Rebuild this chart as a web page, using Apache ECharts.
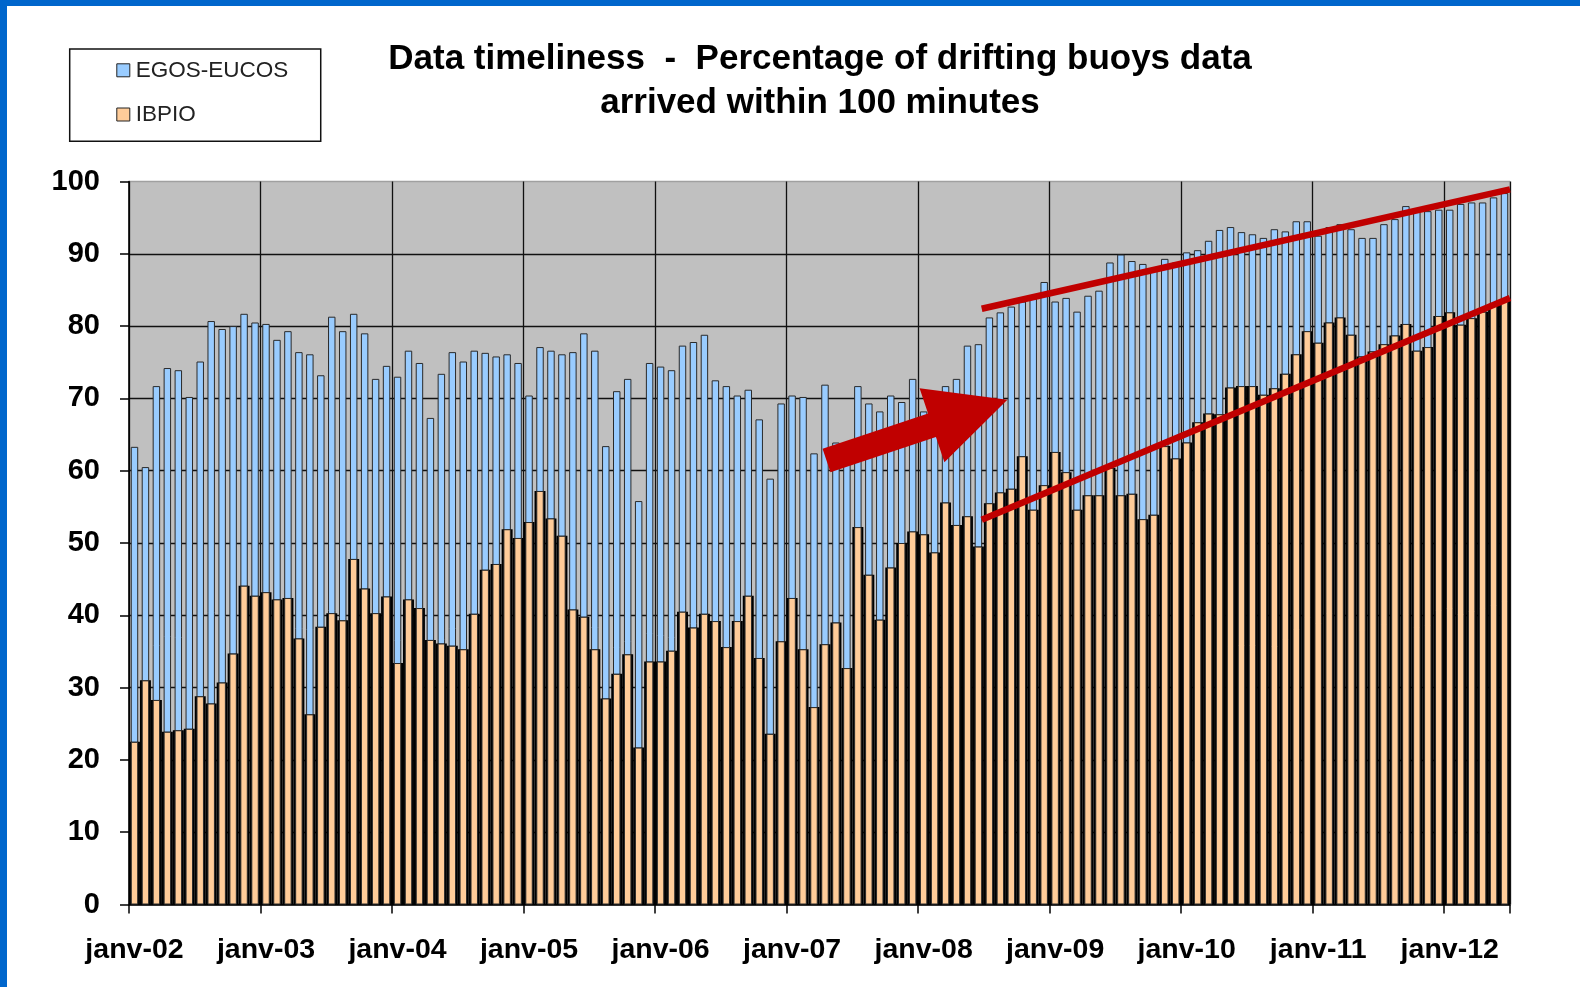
<!DOCTYPE html>
<html>
<head>
<meta charset="utf-8">
<style>
  html, body { margin: 0; padding: 0; background: #ffffff; }
  #chart { width: 1580px; height: 987px; }
</style>
<script src="https://cdn.jsdelivr.net/npm/echarts@6/dist/echarts.min.js"></script>
</head>
<body>
<div id="chart"></div>
<script>
// ---- data ----
const years = ['02','03','04','05','06','07','08','09','10','11','12'];
const months = ['janv','févr','mars','avr','mai','juin','juil','août','sept','oct','nov','déc'];

const egosEucos = [
  63.3, 60.5, 71.7, 74.2, 73.9, 70.2, 75.1, 80.7, 79.6, 80.0, 81.7, 80.5,
  80.3, 78.1, 79.3, 76.4, 76.1, 73.2, 81.3, 79.3, 81.7, 79.0, 72.7, 74.5,
  73.0, 76.6, 74.9, 67.3, 73.4, 76.4, 75.1, 76.6, 76.3, 75.8, 76.1, 74.9,
  70.4, 77.1, 76.6, 76.1, 76.4, 79.0, 76.6, 63.4, 71.0, 72.7, 55.8, 74.9,
  74.4, 73.9, 77.3, 77.8, 78.8, 72.5, 71.7, 70.4, 71.2, 67.1, 58.9, 69.3,
  70.4, 70.2, 62.4, 71.9, 63.9, 62.5, 71.7, 69.3, 68.2, 70.4, 69.5, 72.7,
  68.2, 70.0, 71.7, 72.7, 77.3, 77.5, 81.2, 81.9, 82.7, 83.4, 84.3, 86.1,
  83.4, 83.9, 82.0, 84.2, 84.9, 88.8, 89.9, 89.0, 88.6, 88.0, 89.3, 88.8,
  90.2, 90.5, 91.8, 93.3, 93.7, 93.0, 92.7, 92.2, 93.4, 93.1, 94.5, 94.5,
  92.5, 93.7, 94.1, 93.4, 92.2, 92.2, 94.1, 94.8, 96.6, 95.8, 95.9, 96.1,
  96.1, 96.9, 97.1, 97.1, 97.8, 98.4
];

const ibpio = [
  22.5, 31.0, 28.3, 23.9, 24.1, 24.3, 28.8, 27.8, 30.7, 34.7, 44.1, 42.7,
  43.2, 42.2, 42.4, 36.8, 26.3, 38.4, 40.3, 39.3, 47.8, 43.7, 40.3, 42.6,
  33.4, 42.2, 41.0, 36.6, 36.1, 35.8, 35.3, 40.2, 46.3, 47.1, 51.9, 50.7,
  52.9, 57.2, 53.4, 51.0, 40.8, 39.8, 35.3, 28.5, 31.9, 34.6, 21.7, 33.6,
  33.6, 35.1, 40.5, 38.3, 40.2, 39.2, 35.6, 39.2, 42.7, 34.1, 23.6, 36.4,
  42.4, 35.3, 27.3, 36.0, 39.0, 32.7, 52.2, 45.6, 39.4, 46.6, 50.0, 51.6,
  51.2, 48.7, 55.6, 52.5, 53.7, 49.5, 55.5, 57.0, 57.5, 62.0, 54.6, 58.0,
  62.6, 59.8, 54.6, 56.6, 56.6, 60.4, 56.6, 56.8, 53.3, 53.9, 63.4, 61.7,
  63.9, 66.7, 67.9, 67.8, 71.5, 71.7, 71.7, 70.5, 71.4, 73.4, 76.1, 79.3,
  77.7, 80.5, 81.2, 78.8, 75.8, 76.5, 77.5, 78.7, 80.3, 76.6, 77.1, 81.4,
  81.9, 80.2, 81.1, 82.0, 82.8, 83.7
];

const yMin = 0, yMax = 100, yInterval = 10;

// annotation anchors in data space: [category index, value]
const trendUpper = [[77.3, 82.4], [125.5, 98.9]];
const trendLower = [[77.3, 53.2], [125.5, 83.9]];
const arrowTailTip = [[63.14, 61.4], [79.64, 69.8]];

// ---- build categories ----
const categories = [];
for (const y of years) for (const m of months) {
  if (categories.length < egosEucos.length) categories.push(m + '-' + y);
}

const FONT = "'Liberation Sans', Arial, sans-serif";
const yearStart = (idx) => idx % 12 === 0;
const ySplitColors = [];
for (let v = yMin; v <= yMax; v += yInterval) ySplitColors.push(v === yMax ? '#a0a0a0' : '#111111');

const chart = echarts.init(document.getElementById('chart'));
chart.setOption({
  animation: false,
  backgroundColor: '#ffffff',
  title: {
    text: 'Data timeliness  -  Percentage of drifting buoys data\narrived within 100 minutes',
    left: 820,
    top: 37.5,
    padding: 0,
    textAlign: 'center',
    textStyle: { fontFamily: FONT, fontSize: 35, fontWeight: 'bold', color: '#000', lineHeight: 44 }
  },
  legend: {
    data: ['EGOS-EUCOS', 'IBPIO'],
    orient: 'vertical',
    left: 69.7,
    top: 49,
    padding: [9.8, 32.4, 15.3, 46.6],
    backgroundColor: '#ffffff',
    borderColor: '#111111',
    borderWidth: 1.5,
    borderRadius: 0,
    itemWidth: 13,
    itemHeight: 13,
    itemGap: 21.2,
    icon: 'rect',
    itemStyle: { borderColor: '#222', borderWidth: 1 },
    textStyle: { fontFamily: FONT, fontSize: 22.5, lineHeight: 22, color: '#222', padding: [0, 0, 0, 1] }
  },
  grid: {
    left: 129, right: 70, top: 181.5, bottom: 82.5,
    show: true, backgroundColor: '#c0c0c0', borderColor: '#a0a0a0', borderWidth: 1
  },
  xAxis: [{
    type: 'category',
    data: categories,
    boundaryGap: true,
    axisLine: { show: true, lineStyle: { color: '#000', width: 1.5 } },
    axisTick: { show: true, interval: (i) => yearStart(i), alignWithLabel: false, length: 9, lineStyle: { color: '#000', width: 1.5 } },
    axisLabel: { interval: (i) => yearStart(i), fontFamily: FONT, fontSize: 28.5, fontWeight: 'bold', color: '#000', margin: 31 },
    splitLine: { show: true, interval: (i) => yearStart(i), lineStyle: { color: '#111', width: 1.3 } }
  }, {
    type: 'category',
    data: categories,
    show: false
  }],
  yAxis: {
    type: 'value',
    min: yMin, max: yMax, interval: yInterval,
    axisLine: { show: true, lineStyle: { color: '#000', width: 1.5 } },
    axisTick: { show: true, length: 9, lineStyle: { color: '#000', width: 1.5 } },
    axisLabel: { fontFamily: FONT, fontSize: 29, fontWeight: 'bold', color: '#000', margin: 29 },
    splitLine: { show: true, lineStyle: { color: ySplitColors, width: 1.3 } }
  },
  series: [{
    name: 'EGOS-EUCOS',
    type: 'bar',
    xAxisIndex: 0,
    barWidth: '68%',
    barGap: '-100%',
    data: egosEucos,
    itemStyle: { color: '#99ccff', borderColor: '#2a2a2a', borderWidth: 1 }
  }, {
    name: 'shade',
    type: 'bar',
    xAxisIndex: 1,
    barWidth: '100%',
    data: ibpio,
    silent: true,
    itemStyle: { color: '#000000' }
  }, {
    name: 'IBPIO',
    type: 'bar',
    xAxisIndex: 0,
    barWidth: '68%',
    barGap: '-100%',
    data: ibpio,
    itemStyle: { color: '#ffcc99', borderColor: '#2a2a2a', borderWidth: 1 }
  }]
});

// ---- annotations positioned through the chart's own scales ----
function toPx(p) {
  const x0 = chart.convertToPixel({ xAxisIndex: 0 }, 0);
  const x1 = chart.convertToPixel({ xAxisIndex: 0 }, 1);
  return [x0 + p[0] * (x1 - x0), chart.convertToPixel({ yAxisIndex: 0 }, p[1])];
}
function arrowPoly(tail, tip, halfShaft, halfHead, headLen) {
  const dx = tip[0] - tail[0], dy = tip[1] - tail[1];
  const L = Math.hypot(dx, dy);
  const ux = dx / L, uy = dy / L, nx = -uy, ny = ux;
  const bx = tip[0] - ux * headLen, by = tip[1] - uy * headLen;
  return [
    [tail[0] + nx * halfShaft, tail[1] + ny * halfShaft],
    [bx + nx * halfShaft, by + ny * halfShaft],
    [bx + nx * halfHead, by + ny * halfHead],
    [tip[0], tip[1]],
    [bx - nx * halfHead, by - ny * halfHead],
    [bx - nx * halfShaft, by - ny * halfShaft],
    [tail[0] - nx * halfShaft, tail[1] - ny * halfShaft]
  ];
}
const RED = '#c00000';
const u0 = toPx(trendUpper[0]), u1 = toPx(trendUpper[1]);
const l0 = toPx(trendLower[0]), l1 = toPx(trendLower[1]);
const aT = toPx(arrowTailTip[0]), aP = toPx(arrowTailTip[1]);
chart.setOption({
  graphic: [
    { type: 'rect', z: 200, shape: { x: 0, y: 0, width: 7, height: 987 }, style: { fill: '#0066cc' } },
    { type: 'rect', z: 200, shape: { x: 0, y: 0, width: 1580, height: 6 }, style: { fill: '#0066cc' } },
    { type: 'line', z: 150, shape: { x1: u0[0], y1: u0[1], x2: u1[0], y2: u1[1] }, style: { stroke: RED, lineWidth: 6.5 } },
    { type: 'line', z: 150, shape: { x1: l0[0], y1: l0[1], x2: l1[0], y2: l1[1] }, style: { stroke: RED, lineWidth: 6.5 } },
    { type: 'polygon', z: 150, shape: { points: arrowPoly(aT, aP, 12.4, 39, 79.5) }, style: { fill: RED } }
  ]
});
</script>
</body>
</html>
